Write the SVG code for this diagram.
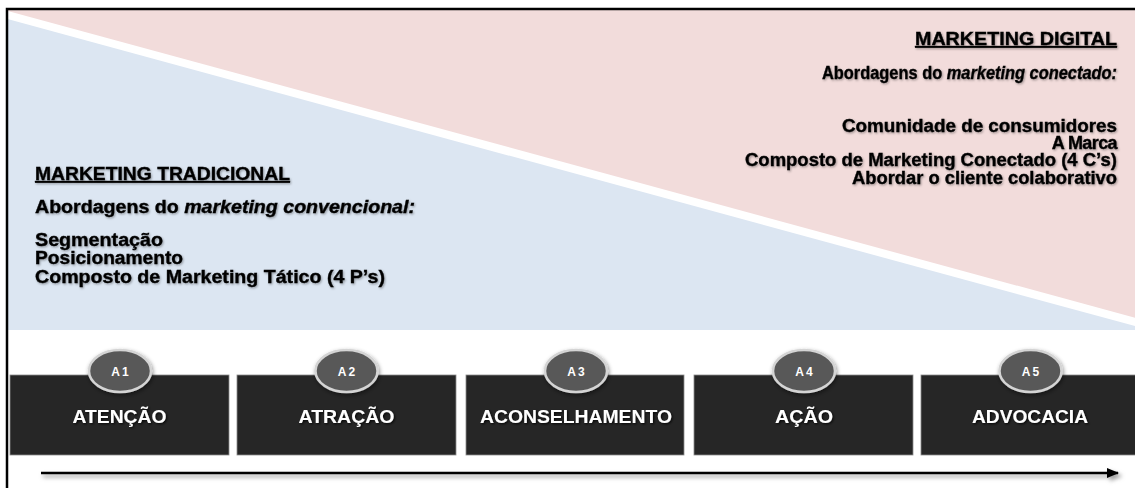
<svg xmlns="http://www.w3.org/2000/svg" width="1135" height="488" viewBox="0 0 1135 488">
  <defs>
    <filter id="tshadow" x="-5%" y="-30%" width="110%" height="160%">
      <feDropShadow dx="1" dy="1.2" stdDeviation="0.8" flood-color="#000" flood-opacity="0.35"/>
    </filter>
    <filter id="wshadow" x="-5%" y="-30%" width="110%" height="160%">
      <feDropShadow dx="1.2" dy="1.2" stdDeviation="0.8" flood-color="#000" flood-opacity="0.8"/>
    </filter>
    <filter id="eshadow" x="-30%" y="-30%" width="160%" height="170%">
      <feDropShadow dx="1" dy="2" stdDeviation="2" flood-color="#000" flood-opacity="0.45"/>
    </filter>
    <filter id="blur" filterUnits="userSpaceOnUse" x="20" y="460" width="1115" height="28">
      <feGaussianBlur stdDeviation="2"/>
    </filter>
    <marker id="arrowhead" markerWidth="12" markerHeight="10" refX="11" refY="5" orient="auto" markerUnits="userSpaceOnUse">
      <polygon points="0,0 12,5 0,10" fill="#000"/>
    </marker>
    <marker id="arrowhead-shadow" markerWidth="12" markerHeight="10" refX="11" refY="5" orient="auto" markerUnits="userSpaceOnUse">
      <polygon points="0,0 12,5 0,10" fill="#999"/>
    </marker>
  </defs>
  <style>
    .panel { font-family: "Liberation Sans", Arial, sans-serif; font-weight: bold; font-size: 18px; fill: #000; stroke: #000; stroke-width: 0.35px; }
    .head { text-decoration: underline; }
    .r { text-anchor: end; }
    .box { fill: #262626; stroke: #8c8c8c; stroke-width: 0.8; }
    .boxlabel { font-family: "Liberation Sans", Arial, sans-serif; font-weight: bold; font-size: 18.5px; fill: #fff; text-anchor: middle; }
    .badge { fill: #595959; stroke: #d4d4d4; stroke-width: 2.5; }
    .badgelabel { font-family: "Liberation Sans", Arial, sans-serif; font-weight: bold; font-size: 12px; fill: #fff; text-anchor: middle; letter-spacing: 2px; }
  </style>

  <rect width="1135" height="488" fill="#ffffff"/>

  <g id="background">
    <rect x="8" y="10" width="1127" height="320" fill="#F2DCDB"/>
    <polygon points="8,15 1135,321 1135,330 8,330" fill="#DCE6F2"/>
    <line x1="4" y1="14" x2="1139" y2="323" stroke="#ffffff" stroke-width="8"/>
    <polyline points="7,488 7,9 1135,9" fill="none" stroke="#000" stroke-width="2.5"/>
  </g>

  <g id="marketing-tradicional" class="panel" filter="url(#tshadow)">
    <text class="head" x="35" y="180" textLength="255" lengthAdjust="spacingAndGlyphs">MARKETING TRADICIONAL</text>
    <text x="35" y="213" textLength="380" lengthAdjust="spacingAndGlyphs">Abordagens do <tspan font-style="italic">marketing convencional:</tspan></text>
    <text x="35" y="246" textLength="128" lengthAdjust="spacingAndGlyphs">Segmentação</text>
    <text x="35" y="264" textLength="148" lengthAdjust="spacingAndGlyphs">Posicionamento</text>
    <text x="35" y="283" textLength="350" lengthAdjust="spacingAndGlyphs">Composto de Marketing Tático (4 P’s)</text>
  </g>

  <g id="marketing-digital" class="panel" filter="url(#tshadow)">
    <text class="head" x="915" y="45" textLength="202" lengthAdjust="spacingAndGlyphs">MARKETING DIGITAL</text>
    <text x="822" y="79" textLength="295" lengthAdjust="spacingAndGlyphs">Abordagens do <tspan font-style="italic">marketing conectado:</tspan></text>
    <text x="842" y="132" textLength="275" lengthAdjust="spacingAndGlyphs">Comunidade de consumidores</text>
    <text class="r" x="1117" y="149" letter-spacing="-0.6">A Marca</text>
    <text x="745" y="166" textLength="372" lengthAdjust="spacingAndGlyphs">Composto de Marketing Conectado (4 C’s)</text>
    <text x="852" y="184" textLength="265" lengthAdjust="spacingAndGlyphs">Abordar o cliente colaborativo</text>
  </g>

  <g id="connectors">
    <line x1="43" y1="476" x2="1121" y2="476" stroke="#999" stroke-width="2.5" marker-end="url(#arrowhead-shadow)" filter="url(#blur)"/>
    <line x1="41" y1="473" x2="1118" y2="473" stroke="#000" stroke-width="2.5" marker-end="url(#arrowhead)"/>
  </g>

  <g id="stage-a1">
    <rect class="box" x="10" y="375" width="219" height="80"/>
    <text class="boxlabel" x="119.5" y="423" textLength="94" lengthAdjust="spacingAndGlyphs" filter="url(#wshadow)">ATENÇÃO</text>
    <ellipse class="badge" cx="120" cy="371" rx="31" ry="21" filter="url(#eshadow)"/>
    <text class="badgelabel" x="121" y="375.5">A1</text>
  </g>

  <g id="stage-a2">
    <rect class="box" x="237" y="375" width="219" height="80"/>
    <text class="boxlabel" x="346.5" y="423" textLength="96" lengthAdjust="spacingAndGlyphs" filter="url(#wshadow)">ATRAÇÃO</text>
    <ellipse class="badge" cx="346.5" cy="371" rx="31" ry="21" filter="url(#eshadow)"/>
    <text class="badgelabel" x="347.5" y="375.5">A2</text>
  </g>

  <g id="stage-a3">
    <rect class="box" x="466" y="375" width="218" height="80"/>
    <text class="boxlabel" x="576" y="423" textLength="192" lengthAdjust="spacingAndGlyphs" filter="url(#wshadow)">ACONSELHAMENTO</text>
    <ellipse class="badge" cx="576" cy="371" rx="31" ry="21" filter="url(#eshadow)"/>
    <text class="badgelabel" x="577" y="375.5">A3</text>
  </g>

  <g id="stage-a4">
    <rect class="box" x="694" y="375" width="219" height="80"/>
    <text class="boxlabel" x="804" y="423" textLength="58" lengthAdjust="spacingAndGlyphs" filter="url(#wshadow)">AÇÃO</text>
    <ellipse class="badge" cx="804" cy="371" rx="31" ry="21" filter="url(#eshadow)"/>
    <text class="badgelabel" x="805" y="375.5">A4</text>
  </g>

  <g id="stage-a5">
    <rect class="box" x="921" y="375" width="219" height="80"/>
    <text class="boxlabel" x="1030" y="423" textLength="116" lengthAdjust="spacingAndGlyphs" filter="url(#wshadow)">ADVOCACIA</text>
    <ellipse class="badge" cx="1030.5" cy="371" rx="31" ry="21" filter="url(#eshadow)"/>
    <text class="badgelabel" x="1031.5" y="375.5">A5</text>
  </g>
</svg>
